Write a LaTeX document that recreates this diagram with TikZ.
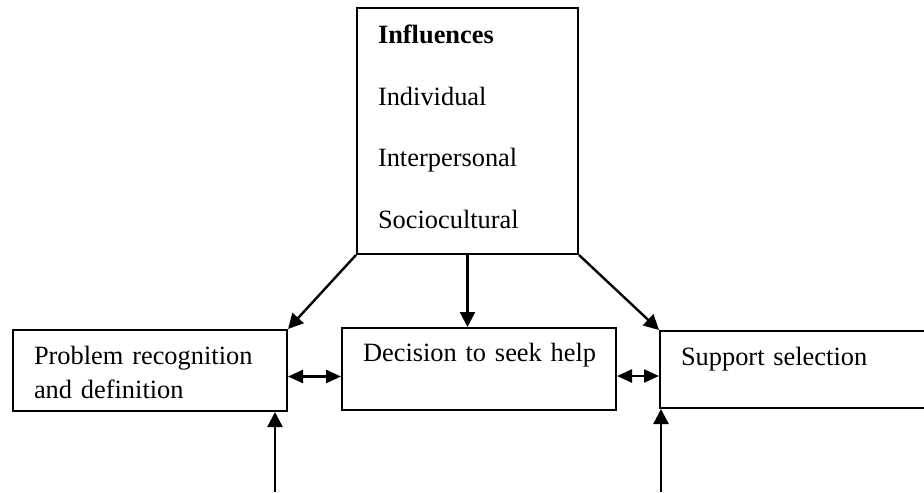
\documentclass[tikz,border=0pt]{standalone}
\usepackage{fontspec}
\setmainfont{Liberation Serif}
\usetikzlibrary{arrows.meta}

\begin{document}
\begin{tikzpicture}[x=0.5pt, y=-0.5pt,
        box/.style={draw, line width=1pt, anchor=north west, align=left, inner xsep=10.5pt, inner ysep=0pt, font=\fontsize{13.2}{17}\selectfont},
        arr/.style={line width=1.2pt, -{Triangle[length=7.5pt, width=7.5pt]}},
        dblarr/.style={line width=1.2pt, {Triangle[length=7.5pt, width=6.5pt]}-{Triangle[length=7.5pt, width=6.5pt]}}]
        \clip (0, 0) rectangle (924, 492);
        % the influences on top
        \node [box, text width=89.5pt, text height=18pt, text depth=105pt, font=\fontsize{13.2}{30.75}\selectfont] (infl) at (356, 7)
            {\textbf{Influences}\\Individual\\Interpersonal\\Sociocultural};
        % the three stages
        \node [box, text width=116pt, text height=17pt, text depth=23.5pt] (prob) at (12, 329) {Problem recognition\\and definition};
        \node [box, text width=116pt, text height=16.5pt, text depth=24.5pt] (dec) at (341, 327) {\mbox{Decision to seek help}};
        \node [box, text width=129pt, text height=17pt, text depth=21.5pt] (supp) at (659, 330) {Support selection};

        \draw [arr] (infl.south west) -- (prob.north east);
        \draw [arr] (infl.south) -- (infl.south |- dec.north);
        \draw [arr] (infl.south east) -- (supp.north west);
        \draw [dblarr] ([yshift=-3pt]prob.east) -- ([yshift=-3pt]prob.east -| dec.west);
        \draw [dblarr] ([yshift=-3.5pt]dec.east) -- ([yshift=-3.5pt]dec.east -| supp.west);

        % arrows coming in from below
        \coordinate (in1) at (275, 492);
        \coordinate (in2) at (661, 492);
        \draw [arr] (in1) -- (in1 |- prob.south);
        \draw [arr] (in2) -- (in2 |- supp.south);
    \end{tikzpicture}
\end{document}
